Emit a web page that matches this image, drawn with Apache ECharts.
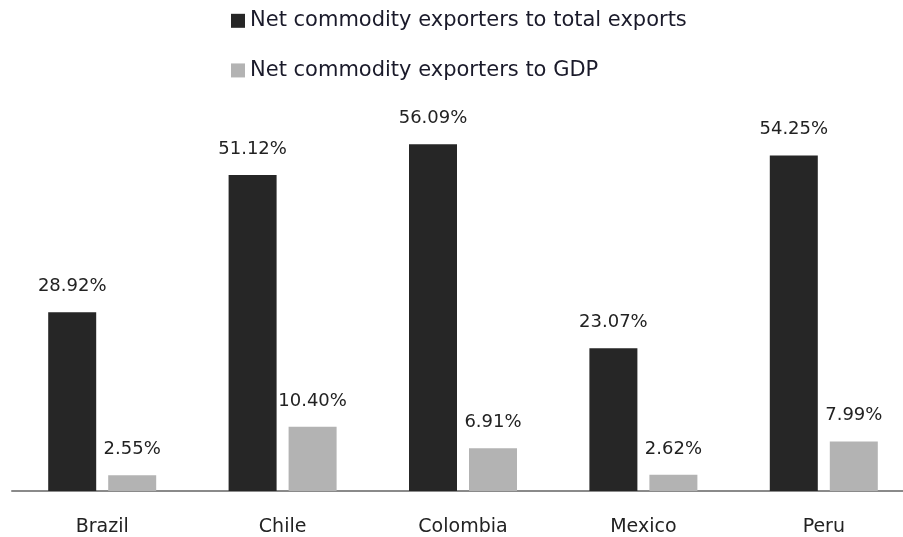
<!DOCTYPE html>
<html>
<head>
    <title>Net commodity exporters</title>
    <script src="https://cdn.jsdelivr.net/npm/echarts@6/dist/echarts.min.js"></script>
    <style>
        html, body { margin: 0; padding: 0; background: #fff; }
        #chart { width: 903px; height: 537px; }
    </style>
</head>
<body>
    <div id="chart"></div>
    <script>
        // values (percent)
        var countries = ['Brazil', 'Chile', 'Colombia', 'Mexico', 'Peru'];
        var toExports = [28.92, 51.12, 56.09, 23.07, 54.25];
        var toGdp = [2.55, 10.40, 6.91, 2.62, 7.99];
        var seriesNames = ['Net commodity exporters to total exports', 'Net commodity exporters to GDP'];

        var font = '"DejaVu Sans", sans-serif';
        var chart = echarts.init(document.getElementById('chart'));

        function pctLabel(p) {
            return p.value.toFixed(2) + '%';
        }

        var option = {
            animation: false,
            legend: {
                orient: 'vertical',
                left: 231,
                top: 0,
                padding: 0,
                itemWidth: 14,
                itemHeight: 14,
                itemGap: 8,
                icon: 'rect',
                textStyle: { fontFamily: font, fontSize: 21, color: '#1a1a2a' },
                data: seriesNames
            },
            grid: { left: 12, width: 902, top: 120, bottom: 46, outerBoundsMode: 'none' },
            xAxis: {
                type: 'category',
                data: countries,
                axisLine: { lineStyle: { color: '#8a8a8a', width: 2 } },
                axisTick: { show: false },
                axisLabel: { fontFamily: font, fontSize: 19, color: '#222', margin: 17 }
            },
            yAxis: {
                type: 'value',
                min: 0,
                max: 60,
                show: false,
                splitLine: { show: false }
            },
            series: [
                {
                    name: seriesNames[0],
                    type: 'bar',
                    data: toExports,
                    barWidth: 48,
                    barGap: '25%',
                    itemStyle: { color: '#262626' },
                    label: {
                        show: true, position: 'top', distance: 8,
                        fontFamily: font, fontSize: 18, color: '#222',
                        formatter: pctLabel
                    }
                },
                {
                    name: seriesNames[1],
                    type: 'bar',
                    data: toGdp,
                    barWidth: 48,
                    itemStyle: { color: '#b3b3b3' },
                    label: {
                        show: true, position: 'top', distance: 8,
                        fontFamily: font, fontSize: 18, color: '#222',
                        formatter: pctLabel
                    }
                }
            ]
        };

        chart.setOption(option);
    </script>
</body>
</html>
